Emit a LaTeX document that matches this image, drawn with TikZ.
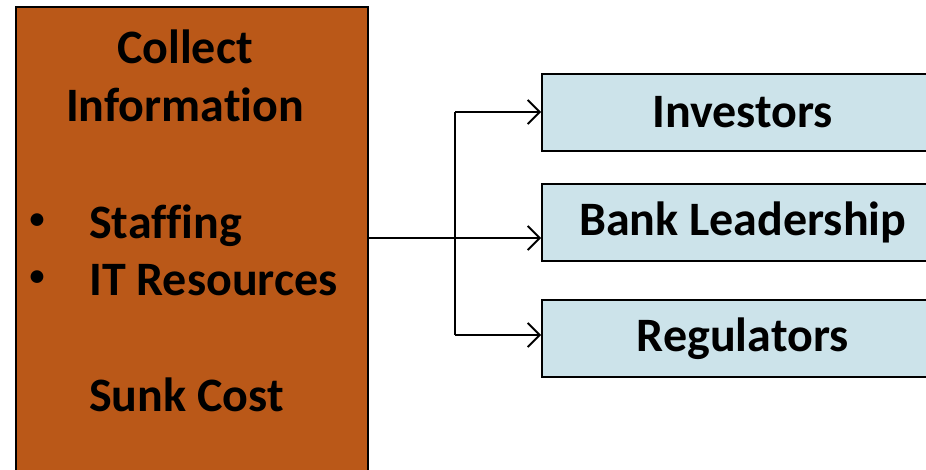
\documentclass[tikz,border=0pt]{standalone}
\usepackage{fontspec}
\setmainfont{Carlito}[Ligatures={NoCommon}]
\usetikzlibrary{arrows.meta}
\definecolor{rust}{HTML}{BA5818}
\definecolor{paleblue}{HTML}{CCE3EA}
\tikzset{
  mainbox/.style={draw=black, line width=1.5pt, fill=rust, anchor=north west,
    minimum width=352pt, minimum height=480pt, inner sep=0pt},
  target/.style={draw=black, line width=1.5pt, fill=paleblue, anchor=north west,
    minimum width=402pt, minimum height=77pt, inner sep=0pt},
  big/.style={font=\fontsize{48}{58}\selectfont\bfseries, inner sep=0pt},
  dot/.style={font=\fontsize{30}{36}\selectfont\bfseries, inner sep=0pt},
  link/.style={line width=1.8pt, -{Straight Barb[length=12pt,width=24pt,line width=1.8pt]}},
  trunk/.style={line width=1.8pt}
}
\begin{document}
\begin{tikzpicture}[x=1pt,y=-1pt]
  \useasboundingbox (0,0) rectangle (926,469);
  \clip (0,0) rectangle (926,469);

  % source box and its text
  \node[mainbox] (collect) at (15,6) {};
  \node[big, anchor=base] (t1) at (185,63) {Collect};
  \node[big, anchor=base] (t2) at (185,121) {Information};
  \node[dot] (b1) at (37,221) {•};
  \node[big, anchor=base west] (s1) at (89,238) {Staffing};
  \node[dot] (b2) at (37,278) {•};
  \node[big, anchor=base west] (s2) at (89,295) {IT Resources};
  \node[big, anchor=base west] (s3) at (89,411) {Sunk Cost};

  % recipients
  \node[target] (inv) at (541,73) {};
  \node[big] at (inv.center) {Investors};
  \node[target] (bank) at (541,183) {};
  \node[big] at (bank.center) {Bank Leadership};
  \node[target] (reg) at (541,299) {};
  \node[big] at (reg.center) {Regulators};

  % connectors
  \coordinate (mid) at (455,238);
  \coordinate (top) at (455,112);
  \coordinate (bot) at (455,335);
  \draw[link] (collect.east |- mid) -- (mid -| bank.west);
  \draw[trunk] (top) -- (bot);
  \draw[link] (top) -- (top -| inv.west);
  \draw[link] (bot) -- (bot -| reg.west);
\end{tikzpicture}
\end{document}
